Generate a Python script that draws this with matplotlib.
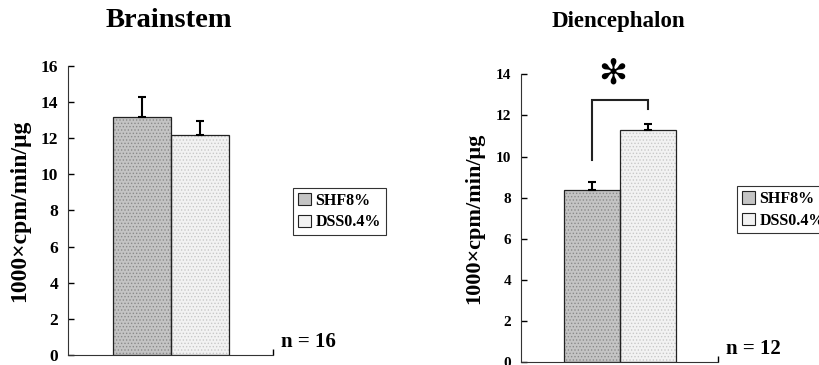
import matplotlib
matplotlib.use("Agg")
import matplotlib.pyplot as plt

plt.rcParams['font.family'] = ['Liberation Serif', 'DejaVu Serif']
plt.rcParams['font.weight'] = 'bold'
plt.rcParams['hatch.linewidth'] = 0.6

groups = ["SHF8%", "DSS0.4%"]
brain_vals = [13.2, 12.2]
brain_err = [1.1, 0.75]
dien_vals = [8.35, 11.3]
dien_err = [0.4, 0.3]
titles = ["Brainstem", "Diencephalon"]
n_labels = ["n = 16", "n = 12"]
colors = ["#c4c4c4", "#f2f2f2"]
hatch_colors = ["#8a8a8a", "#c8c8c8"]

fig = plt.figure(figsize=(8.19, 3.65), dpi=100)

def panel(rect, vals, errs, ymax, nlab, tickfs, legpos, ylab_fs):
    ax = fig.add_axes(rect)
    xs = [0, 1]
    for x, v, c, hc in zip(xs, vals, colors, hatch_colors):
        ax.bar(x, v, width=1.0, color=c, edgecolor=hc, hatch='.....',
               linewidth=0, zorder=2)
    ax.bar(xs, vals, width=1.0, facecolor='none', edgecolor="#222222",
           linewidth=0.9, zorder=2.5)
    for x, v, e in zip(xs, vals, errs):
        ax.errorbar(x, v, yerr=[[0], [e]], fmt="none", ecolor="black",
                    elinewidth=1.5, capsize=3, capthick=1.5, zorder=3)
    ax.set_xlim(-1.27, 2.26)
    ax.set_ylim(0, ymax)
    ax.set_yticks(range(0, ymax + 1, 2))
    ax.tick_params(axis='y', direction='in', length=4, width=1, labelsize=tickfs, pad=7)
    ax.set_xticks([2.26])
    ax.set_xticklabels([""])
    ax.tick_params(axis='x', direction='in', length=4, width=1)
    for lab in ax.get_yticklabels():
        lab.set_fontweight('bold')
    ax.spines['top'].set_visible(False)
    ax.spines['right'].set_visible(False)
    ax.spines['left'].set_color('#333333')
    ax.spines['bottom'].set_color('#333333')
    ax.set_ylabel("1000×cpm/min/μg", fontsize=ylab_fs, fontweight='bold', labelpad=8)
    ax.text(1.04, 0.01, nlab, transform=ax.transAxes, fontsize=15,
            fontweight='bold', ha='left', va='bottom')
    handles = [plt.Rectangle((0, 0), 1, 1, facecolor=c, edgecolor="#222222",
                             linewidth=0.8) for c in colors]
    leg = ax.legend(handles, groups, loc='upper left', bbox_to_anchor=legpos,
                    frameon=True, fancybox=False, edgecolor='black',
                    prop={'size': 11.5, 'weight': 'bold'}, handlelength=0.8,
                    handleheight=0.8, handletextpad=0.3, borderpad=0.3,
                    labelspacing=0.35, borderaxespad=0)
    leg.get_frame().set_linewidth(0.8)
    return ax

ax1 = panel([0.083, 0.0274, 0.250, 0.792], brain_vals, brain_err, 16,
            n_labels[0], 12.5, (1.1, 0.578), 17)
ax2 = panel([0.636, 0.009, 0.241, 0.787], dien_vals, dien_err, 14,
            n_labels[1], 11, (1.096, 0.611), 16)

fig.text(0.206, 0.945, titles[0], fontsize=20.5, fontweight='bold',
         ha='center', va='center')
fig.text(0.755, 0.94, titles[1], fontsize=16.5, fontweight='bold',
         ha='center', va='center')

# significance bracket
ax2.plot([0, 0, 1, 1], [9.82, 12.75, 12.75, 12.31], color="#222222", lw=1.5,
         solid_joinstyle='miter', clip_on=False)
ax2.text(0.38, 13.2, "✻", fontsize=25, ha='center', va='bottom',
         family=['DejaVu Sans'], fontweight='bold', clip_on=False)

fig.savefig("out.png", dpi=100)
